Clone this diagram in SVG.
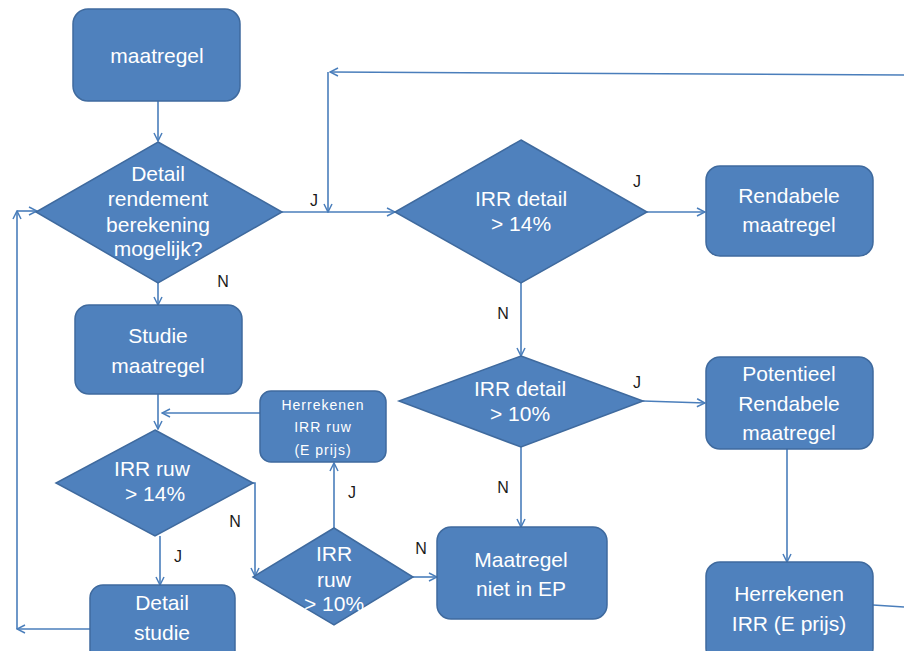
<svg xmlns="http://www.w3.org/2000/svg" width="904" height="651" viewBox="0 0 904 651">
<defs>
<marker id="arr" viewBox="0 0 10 10" refX="9" refY="5" markerWidth="10" markerHeight="10" markerUnits="userSpaceOnUse" orient="auto">
<path d="M1,1 L9,5 L1,9" fill="none" stroke="#4a7ebb" stroke-width="1.5"/>
</marker>
<style>
.box{fill:#4f81bd;stroke:#3f6a9e;stroke-width:1.5}
.t{font-family:"Liberation Sans",Arial,sans-serif;fill:#ffffff;text-anchor:middle;font-size:21px}
.ts{font-family:"Liberation Sans",Arial,sans-serif;fill:#ffffff;text-anchor:middle;font-size:14px;letter-spacing:1px}
.c{fill:none;stroke:#4a7ebb;stroke-width:1.6}
.a{marker-end:url(#arr)}
.lb{font-family:"Liberation Sans",Arial,sans-serif;fill:#1a1a1a;font-size:16px;text-anchor:middle}
</style>
</defs>
<rect width="904" height="651" fill="#ffffff"/>

<g id="connectors">
<line class="c a" x1="158" y1="101" x2="158" y2="141"/>
<line class="c a" x1="282" y1="212" x2="395" y2="212"/>
<polyline class="c a" points="904,75 330,72"/>
<line class="c a" x1="328" y1="72" x2="328" y2="212"/>
<line class="c a" x1="158" y1="283" x2="158" y2="305"/>
<line class="c a" x1="647" y1="212" x2="705" y2="212"/>
<line class="c a" x1="521" y1="283" x2="521" y2="356"/>
<line class="c a" x1="643" y1="401" x2="705" y2="403"/>
<line class="c a" x1="521" y1="447" x2="521" y2="527"/>
<line class="c a" x1="787" y1="449" x2="787" y2="562"/>
<polyline class="c" points="873,605 904,607"/>
<line class="c a" x1="158" y1="394" x2="158" y2="429"/>
<line class="c a" x1="260" y1="413" x2="162" y2="413"/>
<line class="c a" x1="160" y1="536" x2="160" y2="585"/>
<polyline class="c a" points="253,483 255,483 255,576"/>
<line class="c a" x1="334" y1="528" x2="334" y2="463"/>
<line class="c a" x1="413" y1="577" x2="437" y2="577"/>
<line class="c a" x1="90" y1="629" x2="17" y2="629"/>
<line class="c a" x1="17" y1="629" x2="17" y2="211"/>
<line class="c a" x1="17" y1="211" x2="37" y2="211"/>
</g>

<g id="labels">
<text class="lb" x="314" y="206">J</text>
<text class="lb" x="223" y="287">N</text>
<text class="lb" x="637" y="187">J</text>
<text class="lb" x="503" y="319">N</text>
<text class="lb" x="637" y="388">J</text>
<text class="lb" x="503" y="493">N</text>
<text class="lb" x="178" y="562">J</text>
<text class="lb" x="235" y="527">N</text>
<text class="lb" x="352" y="498">J</text>
<text class="lb" x="421" y="554">N</text>
</g>

<g id="n-maatregel">
<rect class="box" x="73" y="9" width="167" height="92" rx="15"/>
<text class="t" x="157" y="63">maatregel</text>
</g>

<g id="n-detail-mogelijk">
<polygon class="box" points="158,142 282,212 158,283 36,212"/>
<text class="t" x="158" y="181">Detail</text>
<text class="t" x="158" y="206">rendement</text>
<text class="t" x="158" y="232">berekening</text>
<text class="t" x="158" y="256">mogelijk?</text>
</g>

<g id="n-studie">
<rect class="box" x="75" y="305" width="167" height="89" rx="14"/>
<text class="t" x="158" y="343">Studie</text>
<text class="t" x="158" y="373">maatregel</text>
</g>

<g id="n-herrekenen-ruw">
<rect class="box" x="260" y="391" width="126" height="71" rx="11"/>
<text class="ts" x="323" y="410">Herrekenen</text>
<text class="ts" x="323" y="432">IRR ruw</text>
<text class="ts" x="323" y="455">(E prijs)</text>
</g>

<g id="n-irr-ruw-14">
<polygon class="box" points="155,430 253,483 155,536 56,483"/>
<text class="t" x="152" y="476">IRR ruw</text>
<text class="t" x="155" y="501">&gt; 14%</text>
</g>

<g id="n-irr-ruw-10">
<polygon class="box" points="334,528 413,577 334,625 253,577"/>
<text class="t" x="334" y="561">IRR</text>
<text class="t" x="334" y="587">ruw</text>
<text class="t" x="334" y="611">&gt; 10%</text>
</g>

<g id="n-detail-studie">
<rect class="box" x="90" y="585" width="145" height="80" rx="13"/>
<text class="t" x="162" y="610">Detail</text>
<text class="t" x="162" y="640">studie</text>
</g>

<g id="n-irr-detail-14">
<polygon class="box" points="521,140 647,212 521,283 395,212"/>
<text class="t" x="521" y="206">IRR detail</text>
<text class="t" x="521" y="231">&gt; 14%</text>
</g>

<g id="n-rendabele">
<rect class="box" x="706" y="166" width="167" height="90" rx="14"/>
<text class="t" x="789" y="203">Rendabele</text>
<text class="t" x="789" y="232">maatregel</text>
</g>

<g id="n-irr-detail-10">
<polygon class="box" points="521,356 643,401 521,447 399,401"/>
<text class="t" x="520" y="396">IRR detail</text>
<text class="t" x="520" y="421">&gt; 10%</text>
</g>

<g id="n-potentieel">
<rect class="box" x="706" y="357" width="167" height="92" rx="14"/>
<text class="t" x="789" y="381">Potentieel</text>
<text class="t" x="789" y="411">Rendabele</text>
<text class="t" x="789" y="440">maatregel</text>
</g>

<g id="n-niet-in-ep">
<rect class="box" x="437" y="527" width="170" height="92" rx="14"/>
<text class="t" x="521" y="567">Maatregel</text>
<text class="t" x="521" y="596">niet in EP</text>
</g>

<g id="n-herrekenen-e">
<rect class="box" x="706" y="562" width="167" height="100" rx="14"/>
<text class="t" x="789" y="601">Herrekenen</text>
<text class="t" x="789" y="631">IRR (E prijs)</text>
</g>
</svg>
